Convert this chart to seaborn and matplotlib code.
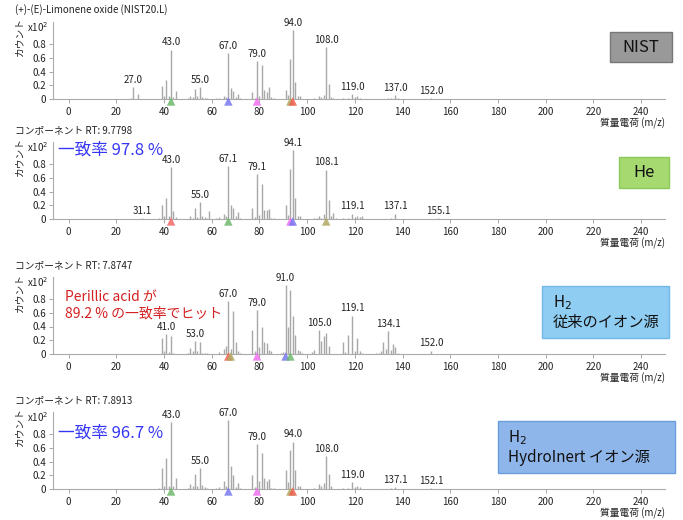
import numpy as np
import pandas as pd
import matplotlib
matplotlib.use("Agg")
import matplotlib.pyplot as plt
import seaborn as sns

# ---- datos: NIST (+)-(E)-Limonene oxide ----
nist_mz = [26, 27, 29, 39, 40, 41, 42, 43, 44, 45, 50, 51, 52, 53, 54, 55, 56, 57, 58,
           62, 63, 65, 66, 67, 68, 69, 70, 71, 72, 77, 78, 79, 80, 81, 82, 83, 84, 85, 86,
           91, 92, 93, 94, 95, 96, 97, 103, 105, 106, 107, 108, 109, 110, 111,
           115, 117, 119, 120, 121, 122, 134, 135, 137, 138, 152]
nist_int = [0.02, 0.17, 0.08, 0.19, 0.04, 0.28, 0.04, 0.72, 0.03, 0.12, 0.02, 0.04, 0.03, 0.14, 0.04, 0.18, 0.03, 0.02, 0.02,
            0.01, 0.02, 0.05, 0.03, 0.67, 0.16, 0.12, 0.03, 0.08, 0.02, 0.10, 0.02, 0.55, 0.05, 0.49, 0.13, 0.10, 0.17, 0.03, 0.02,
            0.13, 0.06, 0.58, 1.00, 0.25, 0.04, 0.04, 0.01, 0.04, 0.03, 0.06, 0.75, 0.22, 0.03, 0.02,
            0.01, 0.02, 0.07, 0.03, 0.05, 0.02, 0.01, 0.02, 0.06, 0.01, 0.01]
nist_lbl_mz = [27, 43, 55, 67, 79, 94, 108, 119, 137, 152]
nist_lbl_txt = ["27.0", "43.0", "55.0", "67.0", "79.0", "94.0", "108.0", "119.0", "137.0", "152.0"]
nist_tri_mz = [43, 67, 79, 93, 94]

# ---- He ----
he_mz = [31, 38, 39, 40, 41, 42, 43, 44, 45, 51, 52, 53, 54, 55, 56, 57, 58, 59,
         62, 63, 65, 66, 67, 68, 69, 70, 71, 72, 77, 78, 79, 80, 81, 82, 83, 84, 85, 86,
         91, 92, 93, 94, 95, 96, 97, 103, 104, 105, 106, 107, 108, 109, 110, 111, 112,
         115, 117, 119, 120, 121, 122, 123, 135, 137, 155]
he_int = [0.01, 0.02, 0.21, 0.04, 0.31, 0.04, 0.75, 0.11, 0.03, 0.04, 0.02, 0.16, 0.03, 0.25, 0.04, 0.03, 0.02, 0.12,
          0.01, 0.03, 0.08, 0.04, 0.77, 0.21, 0.16, 0.04, 0.10, 0.01, 0.16, 0.03, 0.66, 0.06, 0.51, 0.13, 0.13, 0.15, 0.02, 0.01,
          0.21, 0.06, 0.73, 1.00, 0.30, 0.04, 0.05, 0.01, 0.01, 0.04, 0.02, 0.07, 0.72, 0.28, 0.04, 0.09, 0.02,
          0.02, 0.01, 0.08, 0.03, 0.05, 0.03, 0.04, 0.01, 0.08, 0.01]
he_lbl_mz = [31, 43, 55, 67, 79, 94, 108, 119, 137, 155]
he_lbl_txt = ["31.1", "43.0", "55.0", "67.1", "79.1", "94.1", "108.1", "119.1", "137.1", "155.1"]
he_tri_mz = [43, 67, 93, 94, 108]

# ---- H2 従来のイオン源 ----
h2_mz = [39, 40, 41, 42, 43, 44, 50, 51, 52, 53, 54, 55, 56, 57, 58,
         63, 65, 66, 67, 68, 69, 70, 71, 72, 77, 78, 79, 80, 81, 82, 83, 84, 85,
         89, 90, 91, 92, 93, 94, 95, 96, 97, 98, 102, 103, 105, 106, 107, 108, 109,
         115, 116, 117, 119, 120, 121, 122, 123, 129, 130, 131, 132, 133, 134, 135, 136, 137, 138, 152]
h2_int = [0.23, 0.05, 0.29, 0.03, 0.26, 0.02, 0.02, 0.09, 0.04, 0.19, 0.04, 0.18, 0.02, 0.02, 0.01,
          0.03, 0.07, 0.12, 0.77, 0.07, 0.63, 0.18, 0.04, 0.01, 0.35, 0.04, 0.64, 0.10, 0.40, 0.17, 0.16, 0.06, 0.05,
          0.02, 0.03, 1.00, 0.39, 0.93, 0.56, 0.28, 0.06, 0.04, 0.02, 0.03, 0.06, 0.35, 0.19, 0.26, 0.30, 0.12,
          0.18, 0.03, 0.27, 0.56, 0.04, 0.24, 0.04, 0.02, 0.01, 0.01, 0.05, 0.17, 0.08, 0.33, 0.06, 0.14, 0.10, 0.01, 0.05]
h2_lbl_mz = [41, 53, 67, 79, 91, 105, 119, 134, 152]
h2_lbl_txt = ["41.0", "53.0", "67.0", "79.0", "91.0", "105.0", "119.1", "134.1", "152.0"]
h2_tri_mz = [67, 68, 79, 91, 93]

# ---- H2 HydroInert イオン源 ----
hi_mz = [38, 39, 40, 41, 42, 43, 44, 45, 50, 51, 52, 53, 54, 55, 56, 57, 58,
         62, 63, 65, 66, 67, 68, 69, 70, 71, 72, 77, 78, 79, 80, 81, 82, 83, 84, 85, 86,
         91, 92, 93, 94, 95, 96, 97, 103, 105, 106, 107, 108, 109, 110,
         115, 117, 119, 120, 121, 122, 135, 137, 152]
hi_int = [0.02, 0.31, 0.05, 0.45, 0.05, 0.97, 0.05, 0.16, 0.01, 0.07, 0.04, 0.22, 0.04, 0.31, 0.06, 0.03, 0.02,
          0.01, 0.03, 0.12, 0.04, 1.00, 0.33, 0.20, 0.03, 0.09, 0.02, 0.20, 0.03, 0.66, 0.11, 0.52, 0.16, 0.11, 0.14, 0.02, 0.02,
          0.28, 0.10, 0.57, 0.69, 0.28, 0.04, 0.04, 0.01, 0.08, 0.05, 0.09, 0.48, 0.22, 0.04,
          0.02, 0.02, 0.10, 0.03, 0.05, 0.03, 0.02, 0.03, 0.01]
hi_lbl_mz = [43, 55, 67, 79, 94, 108, 119, 137, 152]
hi_lbl_txt = ["43.0", "55.0", "67.0", "79.0", "94.0", "108.0", "119.0", "137.1", "152.1"]
hi_tri_mz = [43, 67, 79, 93, 94]

x_ticks = [0, 20, 40, 60, 80, 100, 120, 140, 160, 180, 200, 220, 240]
y_ticks = [0, 0.2, 0.4, 0.6, 0.8]
y_tick_txt = ["0", "0.2", "0.4", "0.6", "0.8"]

titles = ["(+)-(E)-Limonene oxide (NIST20.L)", "コンポーネント RT: 9.7798",
          "コンポーネント RT: 7.8747", "コンポーネント RT: 7.8913"]

# estilos
tri_colors = {
    0: ["#6db86d", "#7878f0", "#f070f0", "#b0a860", "#f06050"],
    1: ["#f06a6a", "#6db86d", "#f070f0", "#7878f0", "#b0a860"],
    2: ["#f06050", "#b0a860", "#f070f0", "#7878f0", "#6db86d"],
    3: ["#6db86d", "#7878f0", "#f070f0", "#b0a860", "#f06050"],
}

sns.set_style("ticks")
plt.rcParams['font.family'] = ['Noto Sans CJK JP', 'DejaVu Sans']
plt.rcParams['mathtext.fontset'] = 'dejavusans'

fig = plt.figure(figsize=(6.83, 5.2), dpi=100)

panels = [
    (nist_mz, nist_int, nist_lbl_mz, nist_lbl_txt, nist_tri_mz),
    (he_mz, he_int, he_lbl_mz, he_lbl_txt, he_tri_mz),
    (h2_mz, h2_int, h2_lbl_mz, h2_lbl_txt, h2_tri_mz),
    (hi_mz, hi_int, hi_lbl_mz, hi_lbl_txt, hi_tri_mz),
]
bottoms_px = [99, 219, 354, 489]
W, H = 683, 520
ax_h = 77 / H

axes = []
for i, (mz, inten, lmz, ltxt, tmz) in enumerate(panels):
    b = 1 - bottoms_px[i] / H
    ax = fig.add_axes([53 / W, b, (665 - 53) / W, ax_h])
    axes.append(ax)
    df = pd.DataFrame({"mz": mz, "int": inten})
    ax.vlines(df["mz"], 0, df["int"], color="#a8a8a8", linewidth=1.0)
    lookup = dict(zip(mz, inten))
    for m, t in zip(lmz, ltxt):
        ax.annotate(t, (m, lookup.get(m, 0)), xytext=(0, 1.5), textcoords="offset points",
                    ha="center", va="bottom", fontsize=7, color="#222222")
    tri = pd.DataFrame({"mz": tmz, "y": [-0.035] * len(tmz), "k": [str(j) for j in range(len(tmz))]})
    sns.scatterplot(data=tri, x="mz", y="y", hue="k", palette=tri_colors[i], marker="^",
                    s=38, edgecolor="none", alpha=0.85, legend=False, ax=ax, clip_on=False, zorder=5)
    ax.set_xlim(-6.5, 250)
    ax.set_ylim(0, 1.12)
    ax.set_xticks(x_ticks)
    ax.set_yticks(y_ticks)
    ax.set_yticklabels(y_tick_txt)
    ax.tick_params(labelsize=7, length=3, width=0.6, color="#999999", labelcolor="#222222", pad=2)
    ax.tick_params(axis="x", pad=2.5)
    for s in ["top", "right"]:
        ax.spines[s].set_visible(False)
    for s in ["left", "bottom"]:
        ax.spines[s].set_color("#aaaaaa")
        ax.spines[s].set_linewidth(0.8)
    ax.set_xlabel("")
    ax.set_ylabel("")
    ax.text(1.0, -0.31, "質量電荷 (m/z)", transform=ax.transAxes, ha="right", va="center",
            fontsize=7, color="#222222")
    top_px = bottoms_px[i] - 77
    fig.text(15 / W, 1 - (top_px - 12) / H, titles[i], fontsize=7, color="#222222",
             ha="left", va="center")
    fig.text(19 / W, 1 - (top_px + 15) / H, "カウント", rotation=90, fontsize=7,
             ha="center", va="center", color="#222222")
    fig.text(27 / W, 1 - (top_px + 5) / H, r"x10$^{2}$", fontsize=7, ha="left", va="center",
             color="#222222")

# cajas de etiqueta
def box(x0, y0, x1, y1, fc, ec, txt, fs=12, ha="center", tx=None):
    r = plt.Rectangle((x0 / W, 1 - y1 / H), (x1 - x0) / W, (y1 - y0) / H, transform=fig.transFigure,
                      facecolor=fc, edgecolor=ec, linewidth=1.0, zorder=10)
    fig.add_artist(r)
    if tx is None:
        tx = (x0 + x1) / 2
    fig.text(tx / W, 1 - (y0 + y1) / 2 / H, txt, fontsize=fs, ha=ha, va="center", zorder=11,
             color="#111111", linespacing=1.15)

box(610, 32, 672, 62, "#999999", "#777777", "NIST")
box(619, 157, 669, 188, "#a6d96f", "#8cc85a", "He")
box(542, 286, 669, 338, "#90cdf2", "#6fb8e8", "H$_2$\n従来のイオン源", fs=11, ha="left", tx=553)
box(498, 421, 675, 473, "#8fb6ea", "#6a9ddc", "H$_2$\nHydroInert イオン源", fs=11, ha="left", tx=508)

# textos de coincidencia
fig.text(58 / W, 1 - 150 / H, "一致率 97.8 %", fontsize=12,
         color="#3535f5", ha="left", va="center")
fig.text(65 / W, 1 - 297 / H, "Perillic acid が", fontsize=10, color="#d42020",
         ha="left", va="center")
fig.text(65 / W, 1 - 314 / H, "89.2 % の一致率でヒット", fontsize=10, color="#d42020",
         ha="left", va="center")
fig.text(58 / W, 1 - 433 / H, "一致率 96.7 %", fontsize=12,
         color="#3535f5", ha="left", va="center")

fig.savefig("out.png", dpi=100)
